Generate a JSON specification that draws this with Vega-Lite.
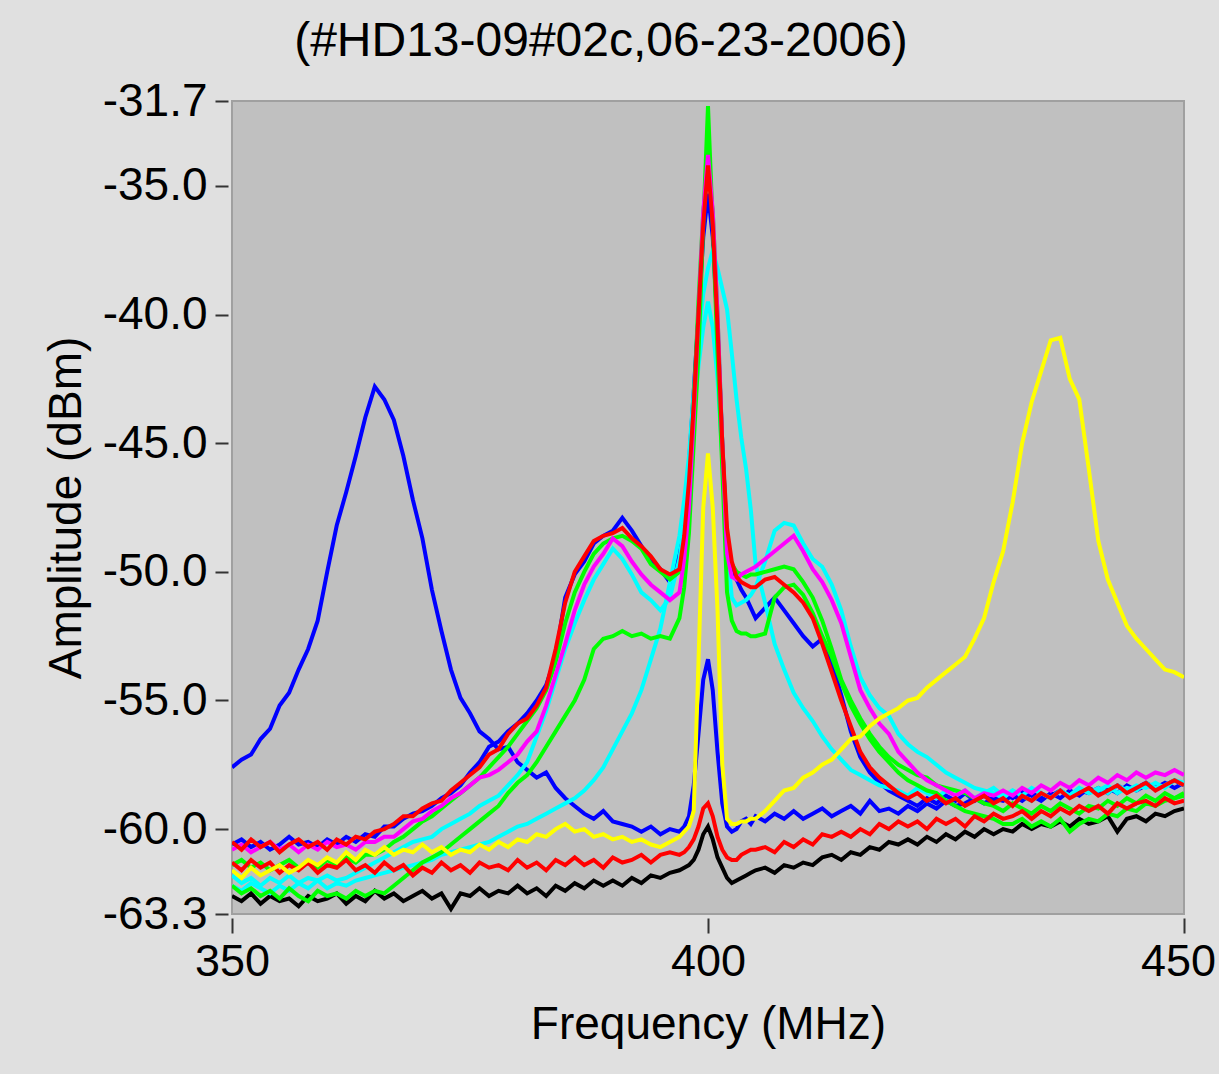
{
"$schema":"https://vega.github.io/schema/vega-lite/v6.json",
"width":952,"height":813,
"autosize":{"type":"none"},
"padding":{"left":232,"top":101,"right":35,"bottom":160},
"background":"#e0e0e0",
"title":{"text":"(#HD13-09#02c,06-23-2006)","font":"Liberation Sans","fontSize":48,"fontWeight":"normal","color":"#000000","anchor":"middle","dx":-107,"offset":12},
"data":{"values":[
{"f":350,"black":-62.6,"blue":-60.6,"blue2":-57.6,"cyan":-61.8,"cyan2":-62.2,"green":-61.4,"green2":-62.2,"magenta":-60.8,"red":-60.5,"red2":-61.3,"yellow":-61.6},
{"f":351,"black":-62.8,"blue":-60.4,"blue2":-57.3,"cyan":-62.1,"cyan2":-62.4,"green":-61.2,"green2":-62.5,"magenta":-60.6,"red":-60.8,"red2":-61.6,"yellow":-61.9},
{"f":352,"black":-62.5,"blue":-60.7,"blue2":-57.1,"cyan":-61.9,"cyan2":-62.1,"green":-61.5,"green2":-62.3,"magenta":-60.9,"red":-60.4,"red2":-61.2,"yellow":-61.5},
{"f":353,"black":-62.9,"blue":-60.5,"blue2":-56.5,"cyan":-62.2,"cyan2":-62.3,"green":-61.3,"green2":-62.6,"magenta":-60.7,"red":-60.7,"red2":-61.5,"yellow":-61.8},
{"f":354,"black":-62.6,"blue":-60.8,"blue2":-56.1,"cyan":-61.9,"cyan2":-62.5,"green":-61.6,"green2":-62.4,"magenta":-60.5,"red":-60.5,"red2":-61.3,"yellow":-61.6},
{"f":355,"black":-62.8,"blue":-60.6,"blue2":-55.2,"cyan":-62.1,"cyan2":-62.2,"green":-61.4,"green2":-62.7,"magenta":-60.8,"red":-60.9,"red2":-61.7,"yellow":-61.4},
{"f":356,"black":-62.7,"blue":-60.3,"blue2":-54.7,"cyan":-61.8,"cyan2":-62.4,"green":-61.2,"green2":-62.3,"magenta":-60.6,"red":-60.6,"red2":-61.4,"yellow":-61.7},
{"f":357,"black":-63.0,"blue":-60.6,"blue2":-53.8,"cyan":-62.1,"cyan2":-62.1,"green":-61.5,"green2":-62.6,"magenta":-60.9,"red":-60.4,"red2":-61.6,"yellow":-61.5},
{"f":358,"black":-62.6,"blue":-60.5,"blue2":-53.0,"cyan":-61.9,"cyan2":-62.3,"green":-61.3,"green2":-62.8,"magenta":-60.6,"red":-60.7,"red2":-61.3,"yellow":-61.2},
{"f":359,"black":-62.8,"blue":-60.7,"blue2":-51.9,"cyan":-62.0,"cyan2":-62.0,"green":-61.5,"green2":-62.4,"magenta":-60.8,"red":-60.5,"red2":-61.7,"yellow":-61.4},
{"f":360,"black":-62.7,"blue":-60.4,"blue2":-50.0,"cyan":-61.8,"cyan2":-62.3,"green":-61.2,"green2":-62.6,"magenta":-60.5,"red":-60.8,"red2":-61.4,"yellow":-61.1},
{"f":361,"black":-62.5,"blue":-60.6,"blue2":-48.2,"cyan":-62.0,"cyan2":-62.1,"green":-61.4,"green2":-62.5,"magenta":-60.7,"red":-60.4,"red2":-61.5,"yellow":-61.3},
{"f":362,"black":-62.9,"blue":-60.3,"blue2":-46.9,"cyan":-61.9,"cyan2":-62.2,"green":-61.1,"green2":-62.7,"magenta":-60.6,"red":-60.6,"red2":-61.2,"yellow":-60.9},
{"f":363,"black":-62.6,"blue":-60.5,"blue2":-45.5,"cyan":-61.7,"cyan2":-62.0,"green":-61.3,"green2":-62.4,"magenta":-60.8,"red":-60.3,"red2":-61.6,"yellow":-61.2},
{"f":364,"black":-62.8,"blue":-60.2,"blue2":-44.0,"cyan":-61.5,"cyan2":-61.9,"green":-61.0,"green2":-62.6,"magenta":-60.5,"red":-60.4,"red2":-61.4,"yellow":-60.8},
{"f":365,"black":-62.4,"blue":-60.3,"blue2":-42.8,"cyan":-61.3,"cyan2":-61.8,"green":-61.0,"green2":-62.4,"magenta":-60.5,"red":-60.1,"red2":-61.7,"yellow":-61.0},
{"f":366,"black":-62.7,"blue":-59.9,"blue2":-43.3,"cyan":-61.1,"cyan2":-61.7,"green":-60.8,"green2":-62.5,"magenta":-60.3,"red":-60.0,"red2":-61.3,"yellow":-60.7},
{"f":367,"black":-62.5,"blue":-59.9,"blue2":-44.1,"cyan":-60.9,"cyan2":-61.6,"green":-60.5,"green2":-62.2,"magenta":-60.3,"red":-59.8,"red2":-61.6,"yellow":-61.0},
{"f":368,"black":-62.8,"blue":-59.6,"blue2":-45.5,"cyan":-60.7,"cyan2":-61.5,"green":-60.3,"green2":-61.9,"magenta":-60.0,"red":-59.5,"red2":-61.4,"yellow":-60.8},
{"f":369,"black":-62.6,"blue":-59.4,"blue2":-47.2,"cyan":-60.5,"cyan2":-61.4,"green":-60.0,"green2":-61.6,"magenta":-59.7,"red":-59.5,"red2":-61.8,"yellow":-60.9},
{"f":370,"black":-62.4,"blue":-59.3,"blue2":-48.7,"cyan":-60.4,"cyan2":-61.3,"green":-59.7,"green2":-61.3,"magenta":-59.6,"red":-59.2,"red2":-61.5,"yellow":-60.6},
{"f":371,"black":-62.7,"blue":-59.1,"blue2":-50.7,"cyan":-60.3,"cyan2":-61.2,"green":-59.5,"green2":-61.1,"magenta":-59.3,"red":-59.0,"red2":-61.7,"yellow":-60.9},
{"f":372,"black":-62.5,"blue":-58.8,"blue2":-52.3,"cyan":-60.0,"cyan2":-61.0,"green":-59.2,"green2":-60.9,"magenta":-59.1,"red":-58.9,"red2":-61.3,"yellow":-60.7},
{"f":373,"black":-63.1,"blue":-58.6,"blue2":-53.8,"cyan":-59.8,"cyan2":-60.9,"green":-58.9,"green2":-60.6,"magenta":-58.8,"red":-58.5,"red2":-61.6,"yellow":-61.0},
{"f":374,"black":-62.5,"blue":-58.3,"blue2":-54.9,"cyan":-59.6,"cyan2":-60.8,"green":-58.6,"green2":-60.3,"magenta":-58.6,"red":-58.2,"red2":-61.4,"yellow":-60.8},
{"f":375,"black":-62.6,"blue":-57.8,"blue2":-55.5,"cyan":-59.4,"cyan2":-60.7,"green":-58.3,"green2":-60.0,"magenta":-58.3,"red":-57.9,"red2":-61.7,"yellow":-60.9},
{"f":376,"black":-62.3,"blue":-57.4,"blue2":-56.2,"cyan":-59.1,"cyan2":-60.6,"green":-58.0,"green2":-59.7,"magenta":-58.0,"red":-57.6,"red2":-61.3,"yellow":-60.6},
{"f":377,"black":-62.6,"blue":-56.8,"blue2":-56.5,"cyan":-58.9,"cyan2":-60.5,"green":-57.6,"green2":-59.4,"magenta":-57.9,"red":-57.1,"red2":-61.5,"yellow":-60.8},
{"f":378,"black":-62.4,"blue":-56.6,"blue2":-56.9,"cyan":-58.7,"cyan2":-60.3,"green":-57.2,"green2":-59.1,"magenta":-57.7,"red":-56.9,"red2":-61.4,"yellow":-60.5},
{"f":379,"black":-62.5,"blue":-56.2,"blue2":-56.8,"cyan":-58.3,"cyan2":-60.1,"green":-56.8,"green2":-58.6,"magenta":-57.4,"red":-56.3,"red2":-61.6,"yellow":-60.7},
{"f":380,"black":-62.2,"blue":-55.9,"blue2":-57.4,"cyan":-57.9,"cyan2":-59.9,"green":-56.3,"green2":-58.2,"magenta":-57.1,"red":-55.9,"red2":-61.2,"yellow":-60.4},
{"f":381,"black":-62.5,"blue":-55.5,"blue2":-57.7,"cyan":-57.4,"cyan2":-59.8,"green":-55.8,"green2":-57.9,"magenta":-56.6,"red":-55.7,"red2":-61.5,"yellow":-60.5},
{"f":382,"black":-62.3,"blue":-55.0,"blue2":-58.0,"cyan":-56.4,"cyan2":-59.6,"green":-55.3,"green2":-57.4,"magenta":-56.2,"red":-55.2,"red2":-61.3,"yellow":-60.2},
{"f":383,"black":-62.6,"blue":-54.4,"blue2":-57.8,"cyan":-55.4,"cyan2":-59.4,"green":-54.6,"green2":-56.8,"magenta":-55.2,"red":-54.5,"red2":-61.6,"yellow":-60.3},
{"f":384,"black":-62.2,"blue":-53.3,"blue2":-58.4,"cyan":-54.2,"cyan2":-59.2,"green":-53.5,"green2":-56.2,"magenta":-54.0,"red":-53.0,"red2":-61.2,"yellow":-60.0},
{"f":385,"black":-62.4,"blue":-51.0,"blue2":-58.8,"cyan":-53.0,"cyan2":-59.0,"green":-52.0,"green2":-55.6,"magenta":-52.8,"red":-51.2,"red2":-61.4,"yellow":-59.8},
{"f":386,"black":-62.1,"blue":-50.1,"blue2":-59.1,"cyan":-52.0,"cyan2":-58.8,"green":-50.8,"green2":-55.0,"magenta":-51.5,"red":-50.0,"red2":-61.1,"yellow":-60.1},
{"f":387,"black":-62.3,"blue":-49.6,"blue2":-59.4,"cyan":-51.1,"cyan2":-58.5,"green":-50.0,"green2":-54.2,"magenta":-50.5,"red":-49.4,"red2":-61.4,"yellow":-60.0},
{"f":388,"black":-62.0,"blue":-48.9,"blue2":-59.6,"cyan":-50.3,"cyan2":-58.1,"green":-49.3,"green2":-53.0,"magenta":-49.8,"red":-48.8,"red2":-61.2,"yellow":-60.3},
{"f":389,"black":-62.2,"blue":-48.6,"blue2":-59.3,"cyan":-49.7,"cyan2":-57.6,"green":-48.9,"green2":-52.6,"magenta":-49.3,"red":-48.6,"red2":-61.5,"yellow":-60.2},
{"f":390,"black":-62.0,"blue":-48.4,"blue2":-59.7,"cyan":-49.1,"cyan2":-56.9,"green":-48.7,"green2":-52.5,"magenta":-48.7,"red":-48.5,"red2":-61.1,"yellow":-60.4},
{"f":391,"black":-62.2,"blue":-47.9,"blue2":-59.8,"cyan":-49.5,"cyan2":-56.2,"green":-48.6,"green2":-52.3,"magenta":-49.0,"red":-48.3,"red2":-61.3,"yellow":-60.3},
{"f":392,"black":-61.9,"blue":-48.4,"blue2":-59.9,"cyan":-50.1,"cyan2":-55.5,"green":-48.8,"green2":-52.5,"magenta":-49.6,"red":-48.7,"red2":-61.2,"yellow":-60.5},
{"f":393,"black":-62.1,"blue":-49.0,"blue2":-60.1,"cyan":-50.8,"cyan2":-54.6,"green":-49.1,"green2":-52.4,"magenta":-50.1,"red":-49.0,"red2":-61.0,"yellow":-60.4},
{"f":394,"black":-61.8,"blue":-49.6,"blue2":-59.9,"cyan":-51.1,"cyan2":-53.4,"green":-49.7,"green2":-52.6,"magenta":-50.5,"red":-49.4,"red2":-61.3,"yellow":-60.6},
{"f":395,"black":-61.9,"blue":-49.9,"blue2":-60.2,"cyan":-51.5,"cyan2":-52.2,"green":-50.0,"green2":-52.5,"magenta":-50.8,"red":-49.9,"red2":-61.0,"yellow":-60.7},
{"f":396,"black":-61.7,"blue":-50.4,"blue2":-60.0,"cyan":-51.0,"cyan2":-50.4,"green":-50.3,"green2":-52.6,"magenta":-51.1,"red":-50.1,"red2":-60.9,"yellow":-60.5},
{"f":397,"black":-61.6,"blue":-49.3,"blue2":-60.1,"cyan":-49.5,"cyan2":-48.6,"green":-50.0,"green2":-51.8,"magenta":-50.8,"red":-49.9,"red2":-61.0,"yellow":-60.3},
{"f":397.5,"black":-61.5,"blue":-47.8,"blue2":-59.9,"cyan":-48.2,"cyan2":-47.2,"green":-49.2,"green2":-50.6,"magenta":-49.5,"red":-48.6,"red2":-60.9,"yellow":-60.1},
{"f":398,"black":-61.4,"blue":-45.8,"blue2":-59.5,"cyan":-46.0,"cyan2":-45.5,"green":-47.0,"green2":-48.5,"magenta":-47.5,"red":-46.5,"red2":-60.7,"yellow":-59.9},
{"f":398.5,"black":-61.2,"blue":-43.0,"blue2":-58.3,"cyan":-44.0,"cyan2":-43.0,"green":-43.5,"green2":-45.0,"magenta":-44.0,"red":-43.5,"red2":-60.4,"yellow":-59.3},
{"f":399,"black":-60.8,"blue":-40.0,"blue2":-56.3,"cyan":-42.0,"cyan2":-40.8,"green":-39.5,"green2":-41.5,"magenta":-40.0,"red":-40.0,"red2":-59.9,"yellow":-53.5},
{"f":399.5,"black":-60.2,"blue":-37.0,"blue2":-54.2,"cyan":-40.5,"cyan2":-39.2,"green":-36.0,"green2":-36.5,"magenta":-36.0,"red":-36.5,"red2":-59.2,"yellow":-47.5},
{"f":400,"black":-59.9,"blue":-35.3,"blue2":-53.4,"cyan":-39.5,"cyan2":-38.2,"green":-34.3,"green2":-31.9,"magenta":-33.8,"red":-34.2,"red2":-59.0,"yellow":-45.4},
{"f":400.5,"black":-60.4,"blue":-37.0,"blue2":-54.6,"cyan":-40.5,"cyan2":-37.5,"green":-36.0,"green2":-36.5,"magenta":-36.0,"red":-36.5,"red2":-59.5,"yellow":-47.5},
{"f":401,"black":-61.1,"blue":-40.5,"blue2":-57.0,"cyan":-42.5,"cyan2":-38.2,"green":-40.0,"green2":-41.5,"magenta":-40.0,"red":-40.5,"red2":-60.3,"yellow":-51.5},
{"f":401.5,"black":-61.5,"blue":-45.0,"blue2":-59.0,"cyan":-45.5,"cyan2":-39.0,"green":-45.0,"green2":-46.0,"magenta":-45.0,"red":-45.0,"red2":-60.8,"yellow":-57.5},
{"f":402,"black":-61.9,"blue":-48.8,"blue2":-59.9,"cyan":-49.0,"cyan2":-39.8,"green":-49.0,"green2":-50.8,"magenta":-49.3,"red":-48.3,"red2":-61.1,"yellow":-59.6},
{"f":402.5,"black":-62.1,"blue":-49.8,"blue2":-60.1,"cyan":-51.0,"cyan2":-41.5,"green":-49.7,"green2":-51.9,"magenta":-50.2,"red":-49.6,"red2":-61.2,"yellow":-59.8},
{"f":403,"black":-62.0,"blue":-50.3,"blue2":-60.0,"cyan":-51.3,"cyan2":-43.3,"green":-50.0,"green2":-52.3,"magenta":-50.3,"red":-50.2,"red2":-61.2,"yellow":-59.8},
{"f":403.5,"black":-61.9,"blue":-50.7,"blue2":-59.7,"cyan":-51.2,"cyan2":-44.8,"green":-50.1,"green2":-52.4,"magenta":-50.1,"red":-50.4,"red2":-61.0,"yellow":-59.7},
{"f":404,"black":-61.8,"blue":-51.0,"blue2":-59.6,"cyan":-51.1,"cyan2":-46.0,"green":-50.2,"green2":-52.4,"magenta":-50.0,"red":-50.5,"red2":-60.9,"yellow":-59.7},
{"f":404.5,"black":-61.7,"blue":-51.4,"blue2":-59.8,"cyan":-50.9,"cyan2":-47.6,"green":-50.1,"green2":-52.5,"magenta":-49.9,"red":-50.6,"red2":-60.8,"yellow":-59.6},
{"f":405,"black":-61.6,"blue":-51.8,"blue2":-59.5,"cyan":-50.6,"cyan2":-49.7,"green":-50.1,"green2":-52.5,"magenta":-49.8,"red":-50.6,"red2":-60.8,"yellow":-59.6},
{"f":406,"black":-61.5,"blue":-51.4,"blue2":-59.7,"cyan":-49.6,"cyan2":-51.2,"green":-50.0,"green2":-52.4,"magenta":-49.5,"red":-50.3,"red2":-60.7,"yellow":-59.3},
{"f":407,"black":-61.7,"blue":-51.0,"blue2":-59.4,"cyan":-48.4,"cyan2":-52.8,"green":-49.9,"green2":-51.0,"magenta":-49.2,"red":-50.2,"red2":-60.9,"yellow":-58.9},
{"f":408,"black":-61.4,"blue":-51.5,"blue2":-59.6,"cyan":-48.1,"cyan2":-53.8,"green":-49.8,"green2":-50.6,"magenta":-48.9,"red":-50.5,"red2":-60.5,"yellow":-58.5},
{"f":409,"black":-61.5,"blue":-52.0,"blue2":-59.3,"cyan":-48.2,"cyan2":-54.7,"green":-49.9,"green2":-50.5,"magenta":-48.6,"red":-50.8,"red2":-60.7,"yellow":-58.4},
{"f":410,"black":-61.3,"blue":-52.5,"blue2":-59.6,"cyan":-48.9,"cyan2":-55.3,"green":-50.4,"green2":-50.9,"magenta":-49.2,"red":-51.2,"red2":-60.4,"yellow":-58.0},
{"f":411,"black":-61.4,"blue":-52.9,"blue2":-59.4,"cyan":-49.5,"cyan2":-55.8,"green":-51.0,"green2":-51.6,"magenta":-49.9,"red":-51.8,"red2":-60.6,"yellow":-57.8},
{"f":412,"black":-61.1,"blue":-52.6,"blue2":-59.2,"cyan":-49.8,"cyan2":-56.4,"green":-51.9,"green2":-52.5,"magenta":-50.4,"red":-52.8,"red2":-60.2,"yellow":-57.5},
{"f":413,"black":-61.0,"blue":-53.5,"blue2":-59.5,"cyan":-50.5,"cyan2":-56.9,"green":-53.0,"green2":-53.3,"magenta":-51.1,"red":-53.9,"red2":-60.3,"yellow":-57.3},
{"f":414,"black":-61.2,"blue":-54.8,"blue2":-59.3,"cyan":-51.5,"cyan2":-57.3,"green":-54.2,"green2":-54.3,"magenta":-52.0,"red":-55.0,"red2":-60.1,"yellow":-56.9},
{"f":415,"black":-60.9,"blue":-56.2,"blue2":-59.1,"cyan":-52.9,"cyan2":-57.7,"green":-55.0,"green2":-55.2,"magenta":-53.3,"red":-56.0,"red2":-60.3,"yellow":-56.5},
{"f":416,"black":-61.0,"blue":-57.2,"blue2":-59.4,"cyan":-54.1,"cyan2":-57.9,"green":-55.7,"green2":-55.9,"magenta":-54.6,"red":-57.0,"red2":-60.0,"yellow":-56.4},
{"f":417,"black":-60.7,"blue":-57.8,"blue2":-58.9,"cyan":-54.8,"cyan2":-58.1,"green":-56.3,"green2":-56.5,"magenta":-55.3,"red":-57.6,"red2":-60.2,"yellow":-56.0},
{"f":418,"black":-60.8,"blue":-58.2,"blue2":-59.3,"cyan":-55.3,"cyan2":-58.3,"green":-56.8,"green2":-57.0,"magenta":-55.9,"red":-58.0,"red2":-59.8,"yellow":-55.7},
{"f":419,"black":-60.5,"blue":-58.5,"blue2":-59.2,"cyan":-55.6,"cyan2":-58.4,"green":-57.2,"green2":-57.4,"magenta":-56.3,"red":-58.3,"red2":-60.0,"yellow":-55.5},
{"f":420,"black":-60.6,"blue":-58.7,"blue2":-59.4,"cyan":-56.3,"cyan2":-58.5,"green":-57.5,"green2":-57.8,"magenta":-57.0,"red":-58.6,"red2":-59.7,"yellow":-55.3},
{"f":421,"black":-60.4,"blue":-58.9,"blue2":-59.1,"cyan":-56.7,"cyan2":-58.7,"green":-57.7,"green2":-58.1,"magenta":-57.4,"red":-58.8,"red2":-59.9,"yellow":-55.0},
{"f":422,"black":-60.6,"blue":-59.1,"blue2":-59.3,"cyan":-57.0,"cyan2":-58.4,"green":-57.9,"green2":-58.3,"magenta":-57.8,"red":-58.6,"red2":-59.7,"yellow":-54.9},
{"f":423,"black":-60.3,"blue":-58.8,"blue2":-59.0,"cyan":-57.2,"cyan2":-58.6,"green":-58.0,"green2":-58.5,"magenta":-58.1,"red":-58.9,"red2":-60.0,"yellow":-54.5},
{"f":424,"black":-60.5,"blue":-59.0,"blue2":-59.2,"cyan":-57.5,"cyan2":-58.8,"green":-58.3,"green2":-58.6,"magenta":-58.3,"red":-58.7,"red2":-59.6,"yellow":-54.2},
{"f":425,"black":-60.2,"blue":-58.7,"blue2":-58.9,"cyan":-57.8,"cyan2":-58.5,"green":-58.4,"green2":-58.9,"magenta":-58.5,"red":-59.0,"red2":-59.8,"yellow":-53.9},
{"f":426,"black":-60.4,"blue":-58.9,"blue2":-59.1,"cyan":-58.0,"cyan2":-58.7,"green":-58.5,"green2":-59.1,"magenta":-58.7,"red":-58.8,"red2":-59.6,"yellow":-53.6},
{"f":427,"black":-60.1,"blue":-58.6,"blue2":-59.0,"cyan":-58.2,"cyan2":-58.5,"green":-58.6,"green2":-59.3,"magenta":-58.5,"red":-59.1,"red2":-59.9,"yellow":-53.3},
{"f":428,"black":-60.3,"blue":-58.9,"blue2":-58.8,"cyan":-58.4,"cyan2":-58.8,"green":-58.8,"green2":-59.4,"magenta":-58.8,"red":-58.9,"red2":-59.5,"yellow":-52.6},
{"f":429,"black":-60.0,"blue":-58.7,"blue2":-59.0,"cyan":-58.5,"cyan2":-58.6,"green":-59.0,"green2":-59.5,"magenta":-58.6,"red":-58.7,"red2":-59.7,"yellow":-51.8},
{"f":430,"black":-60.2,"blue":-58.9,"blue2":-58.8,"cyan":-58.6,"cyan2":-58.4,"green":-59.1,"green2":-59.6,"magenta":-58.7,"red":-59.0,"red2":-59.4,"yellow":-50.4},
{"f":431,"black":-60.0,"blue":-58.6,"blue2":-58.9,"cyan":-58.8,"cyan2":-58.7,"green":-59.3,"green2":-59.8,"magenta":-58.5,"red":-58.8,"red2":-59.6,"yellow":-49.2},
{"f":432,"black":-60.1,"blue":-58.8,"blue2":-58.7,"cyan":-58.5,"cyan2":-58.5,"green":-59.0,"green2":-59.8,"magenta":-58.7,"red":-59.1,"red2":-59.5,"yellow":-47.3},
{"f":433,"black":-59.8,"blue":-58.5,"blue2":-58.9,"cyan":-58.7,"cyan2":-58.7,"green":-59.2,"green2":-59.6,"magenta":-58.4,"red":-58.7,"red2":-59.3,"yellow":-45.0},
{"f":434,"black":-60.0,"blue":-58.7,"blue2":-58.6,"cyan":-58.9,"cyan2":-58.4,"green":-59.4,"green2":-59.9,"magenta":-58.6,"red":-58.9,"red2":-59.6,"yellow":-43.4},
{"f":435,"black":-59.8,"blue":-58.9,"blue2":-58.8,"cyan":-58.6,"cyan2":-58.6,"green":-59.1,"green2":-59.7,"magenta":-58.3,"red":-58.6,"red2":-59.3,"yellow":-42.2},
{"f":436,"black":-59.9,"blue":-58.6,"blue2":-58.7,"cyan":-58.8,"cyan2":-58.8,"green":-59.3,"green2":-59.9,"magenta":-58.5,"red":-58.8,"red2":-59.5,"yellow":-41.0},
{"f":437,"black":-59.7,"blue":-58.8,"blue2":-58.5,"cyan":-58.5,"cyan2":-58.5,"green":-59.0,"green2":-59.6,"magenta":-58.2,"red":-58.5,"red2":-59.2,"yellow":-40.9},
{"f":438,"black":-59.9,"blue":-58.5,"blue2":-58.7,"cyan":-58.7,"cyan2":-58.7,"green":-59.2,"green2":-60.1,"magenta":-58.4,"red":-58.8,"red2":-59.4,"yellow":-42.5},
{"f":439,"black":-59.6,"blue":-58.7,"blue2":-58.5,"cyan":-58.4,"cyan2":-58.4,"green":-59.4,"green2":-59.8,"magenta":-58.1,"red":-58.6,"red2":-59.1,"yellow":-43.3},
{"f":440,"black":-59.8,"blue":-58.4,"blue2":-58.6,"cyan":-58.6,"cyan2":-58.6,"green":-59.1,"green2":-59.6,"magenta":-58.3,"red":-58.4,"red2":-59.3,"yellow":-46.0},
{"f":441,"black":-59.7,"blue":-58.6,"blue2":-58.4,"cyan":-58.4,"cyan2":-58.5,"green":-59.2,"green2":-59.7,"magenta":-58.0,"red":-58.7,"red2":-59.1,"yellow":-48.8},
{"f":442,"black":-59.5,"blue":-58.4,"blue2":-58.6,"cyan":-58.6,"cyan2":-58.3,"green":-58.9,"green2":-59.4,"magenta":-58.2,"red":-58.5,"red2":-59.4,"yellow":-50.3},
{"f":443,"black":-60.1,"blue":-58.6,"blue2":-58.3,"cyan":-58.3,"cyan2":-58.6,"green":-59.1,"green2":-59.5,"magenta":-57.9,"red":-58.3,"red2":-59.0,"yellow":-51.2},
{"f":444,"black":-59.6,"blue":-58.3,"blue2":-58.5,"cyan":-58.5,"cyan2":-58.4,"green":-58.8,"green2":-59.2,"magenta":-58.1,"red":-58.6,"red2":-59.2,"yellow":-52.1},
{"f":445,"black":-59.5,"blue":-58.5,"blue2":-58.4,"cyan":-58.3,"cyan2":-58.5,"green":-59.0,"green2":-59.3,"magenta":-57.8,"red":-58.4,"red2":-59.0,"yellow":-52.6},
{"f":446,"black":-59.7,"blue":-58.3,"blue2":-58.2,"cyan":-58.4,"cyan2":-58.2,"green":-58.7,"green2":-59.0,"magenta":-58.0,"red":-58.2,"red2":-58.9,"yellow":-53.0},
{"f":447,"black":-59.4,"blue":-58.4,"blue2":-58.4,"cyan":-58.2,"cyan2":-58.4,"green":-58.9,"green2":-59.1,"magenta":-57.8,"red":-58.5,"red2":-59.1,"yellow":-53.4},
{"f":448,"black":-59.5,"blue":-58.2,"blue2":-58.3,"cyan":-58.4,"cyan2":-58.3,"green":-58.6,"green2":-58.9,"magenta":-57.9,"red":-58.3,"red2":-58.8,"yellow":-53.8},
{"f":449,"black":-59.3,"blue":-58.4,"blue2":-58.1,"cyan":-58.1,"cyan2":-58.1,"green":-58.8,"green2":-58.8,"magenta":-57.7,"red":-58.1,"red2":-59.0,"yellow":-53.9},
{"f":450,"black":-59.2,"blue":-58.2,"blue2":-58.3,"cyan":-58.3,"cyan2":-58.2,"green":-58.6,"green2":-58.7,"magenta":-57.9,"red":-58.3,"red2":-58.9,"yellow":-54.1}
]},
"transform":[{"fold":["black","blue","blue2","cyan","cyan2","green","green2","magenta","red","red2","yellow"],"as":["s","a"]}],
"mark":{"type":"line","strokeWidth":4,"clip":true},
"encoding":{
"x":{"field":"f","type":"quantitative","scale":{"domain":[350,450],"nice":false,"zero":false},
 "axis":{"values":[350,400,450],"format":"d","title":"Frequency (MHz)","offset":4,"tickSize":15,"labelPadding":6,"titlePadding":18,"labelFontSize":45,
 "labelOffset":{"condition":{"test":"datum.value == 450","value":-6},"value":0}}},
"y":{"field":"a","type":"quantitative","scale":{"domain":[-63.3,-31.7],"nice":false,"zero":false},
 "axis":{"values":[-63.3,-60,-55,-50,-45,-40,-35,-31.7],"format":".1f","labelExpr":"replace(datum.label, '\u2212', '-')","title":"Amplitude (dBm)","offset":4,"tickSize":13,"labelPadding":8,"titlePadding":12}},
"color":{"field":"s","type":"nominal","legend":null,
 "scale":{"domain":["black","blue","blue2","cyan","cyan2","green","green2","magenta","red","red2","yellow"],
 "range":["#000000","#0000ff","#0000ff","#00ffff","#00ffff","#00ff00","#00ff00","#ff00ff","#ff0000","#ff0000","#ffff00"]}}
},
"config":{
"view":{"fill":"#c0c0c0","stroke":"#a0a0a0","strokeWidth":2},
"axis":{"grid":false,"domain":false,"labelFont":"Liberation Sans","titleFont":"Liberation Sans","labelFontSize":46,"titleFontSize":46,"titleFontWeight":"normal","labelColor":"#000000","titleColor":"#000000","tickColor":"#333333","tickWidth":2,"labelOverlap":false,"labelFlush":false,"labelBound":false}
}
}
